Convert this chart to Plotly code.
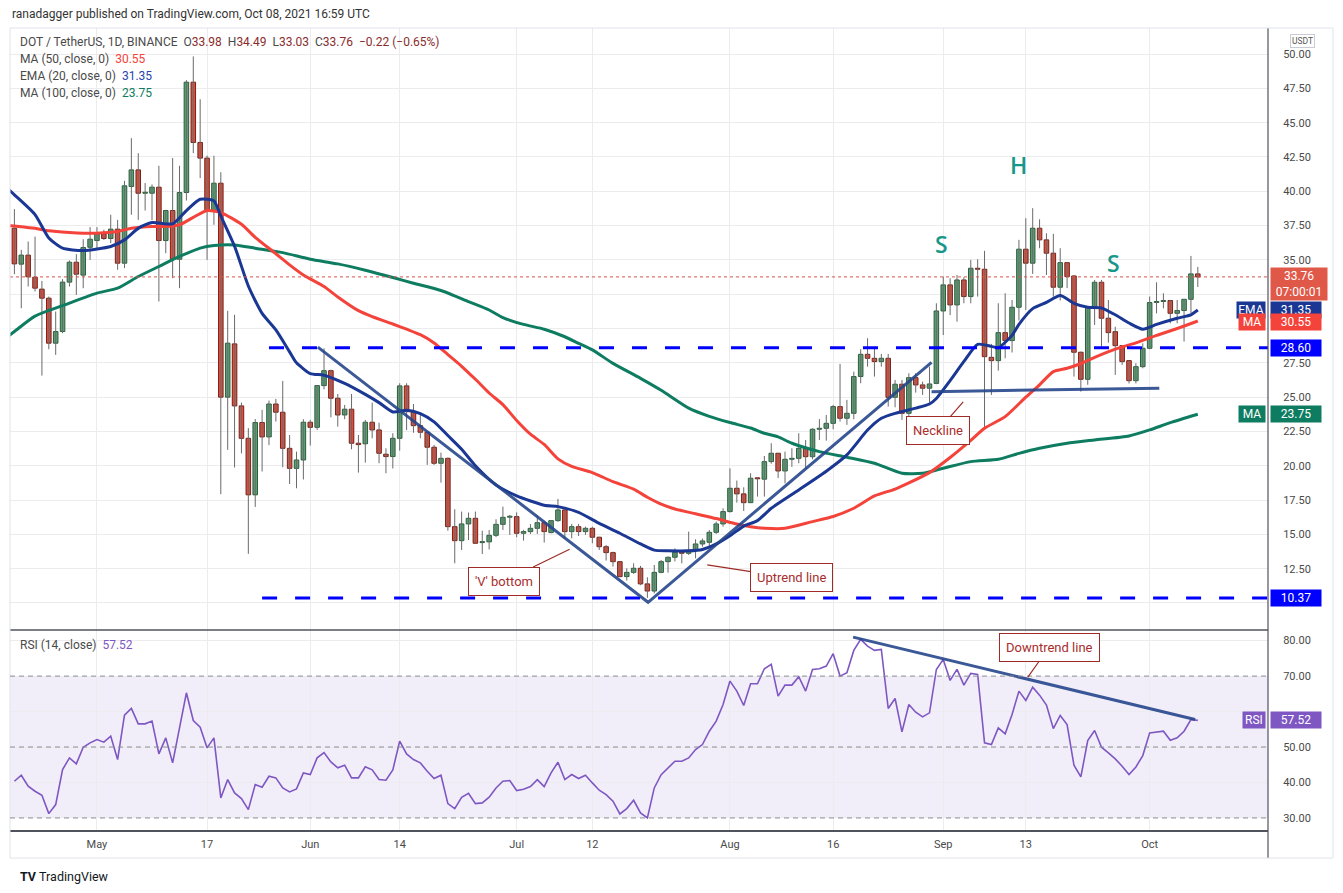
import pandas as pd
import plotly.graph_objects as go

START = pd.Timestamp("2021-04-19")

# daily candles, DOT/USDT 1D, Apr 19 .. Oct 8 2021
opens = [
    37.31, 34.69, 35.35, 33.74, 32.87, 32.21, 28.93, 29.78, 33.38, 34.83,
    33.89, 35.92, 36.41, 36.90, 36.56, 37.24, 34.76, 40.35, 41.56, 39.86,
    39.86, 40.30, 36.41, 38.60, 35.05, 39.91, 47.95, 43.56, 42.42, 38.60,
    40.59, 25.00, 28.88, 24.36, 22.00, 17.88, 23.15, 22.10, 24.50, 23.90,
    21.27, 19.81, 20.42, 23.17, 22.80, 25.84, 26.93, 24.92, 23.70, 24.12,
    21.64, 21.60, 23.17, 22.61, 20.84, 20.67, 22.00, 25.82, 23.94, 22.92,
    22.44, 21.35, 20.18, 20.54, 15.56, 14.54, 15.76, 16.17, 14.40, 14.45,
    14.93, 15.73, 16.25, 16.29, 15.08, 15.20, 15.44, 15.85, 15.13, 16.00,
    16.78, 15.20, 15.56, 15.20, 15.44, 14.79, 14.10, 13.67, 13.01, 11.92,
    12.23, 12.53, 11.39, 10.87, 12.23, 13.01, 13.33, 13.70, 13.62, 13.82,
    14.30, 14.42, 15.15, 15.76, 16.66, 18.36, 17.95, 17.31, 19.09, 19.02,
    20.30, 20.91, 19.62, 20.47, 20.54, 21.27, 20.66, 22.66, 22.73, 23.09,
    24.31, 23.46, 23.82, 26.50, 28.12, 27.83, 27.59, 27.83, 24.99, 25.94,
    23.82, 26.42, 25.89, 25.65, 26.00, 31.28, 33.18, 31.72, 33.54, 32.33,
    34.39, 34.32, 27.90, 27.66, 29.70, 29.12, 31.55, 35.78, 34.76, 37.31,
    36.46, 35.49, 33.01, 34.80, 33.83, 28.27, 26.30, 31.55, 33.37, 30.75,
    29.77, 28.75, 27.66, 26.20, 27.22, 28.56, 31.90, 31.97, 32.04, 31.11,
    31.31, 32.13, 33.98,
]
highs = [
    38.70, 35.73, 36.34, 36.70, 33.47, 32.33, 31.24, 33.60, 34.96, 35.42,
    36.51, 37.39, 37.39, 37.20, 38.29, 37.92, 40.76, 43.87, 42.78, 40.60,
    40.50, 41.86, 38.65, 42.42, 41.86, 48.10, 49.83, 46.71, 42.60, 42.59,
    41.39, 31.29, 31.00, 24.60, 22.74, 23.40, 24.07, 24.75, 24.87, 26.18,
    22.24, 21.03, 23.39, 23.34, 25.89, 28.56, 27.00, 25.23, 24.43, 25.23,
    22.24, 23.34, 24.60, 23.14, 21.27, 22.37, 26.01, 26.01, 24.50, 23.82,
    22.49, 21.52, 20.96, 20.60, 16.83, 16.66, 16.59, 16.66, 15.27, 15.32,
    16.10, 17.02, 16.41, 16.60, 15.33, 15.75, 16.41, 16.00, 16.05, 17.58,
    16.78, 15.76, 15.76, 15.56, 15.56, 14.83, 14.23, 13.74, 13.01, 12.53,
    12.89, 12.70, 11.87, 12.77, 13.13, 13.38, 13.98, 13.74, 15.20, 14.64,
    14.69, 15.32, 15.93, 16.90, 19.81, 18.92, 18.43, 19.45, 19.09, 20.71,
    21.64, 20.91, 21.03, 21.27, 22.37, 21.88, 22.73, 23.40, 23.70, 24.43,
    27.42, 24.80, 26.86, 28.49, 29.29, 28.56, 28.15, 28.15, 26.25, 26.25,
    26.74, 26.74, 26.13, 27.22, 31.84, 33.79, 33.66, 33.90, 33.73, 35.00,
    35.05, 35.66, 28.88, 31.84, 32.57, 32.08, 36.46, 38.04, 38.77, 37.96,
    36.94, 36.90, 35.85, 34.80, 33.90, 28.32, 31.60, 33.54, 33.54, 32.08,
    30.13, 28.80, 27.66, 27.47, 28.92, 32.33, 33.37, 32.57, 32.08, 32.08,
    32.13, 35.29, 34.49,
]
lows = [
    33.96, 31.48, 33.06, 32.70, 26.57, 28.49, 28.08, 29.66, 33.06, 32.45,
    32.94, 35.00, 35.73, 36.45, 36.22, 34.28, 34.40, 38.29, 37.92, 38.60,
    37.90, 31.97, 35.49, 33.67, 32.94, 39.33, 42.78, 40.96, 35.00, 37.56,
    17.93, 21.16, 19.87, 20.90, 13.58, 17.00, 19.58, 21.50, 23.22, 19.89,
    18.67, 18.36, 19.00, 21.47, 22.60, 25.57, 23.53, 22.85, 23.39, 21.20,
    19.50, 20.23, 22.00, 20.18, 19.45, 19.80, 21.10, 22.60, 22.40, 22.00,
    20.06, 20.06, 18.77, 15.27, 12.89, 13.86, 14.59, 14.30, 13.57, 13.90,
    14.80, 15.32, 14.96, 14.79, 14.54, 15.03, 15.03, 14.40, 15.07, 15.92,
    14.71, 14.71, 14.88, 14.96, 14.35, 13.86, 13.09, 12.65, 11.87, 11.63,
    12.12, 11.30, 10.37, 10.70, 12.16, 12.21, 13.03, 12.89, 13.50, 13.25,
    14.10, 14.10, 15.03, 15.56, 16.59, 17.31, 16.70, 17.31, 17.75, 17.75,
    20.15, 19.10, 18.72, 19.92, 20.18, 19.81, 20.47, 21.88, 21.83, 22.66,
    23.22, 22.98, 23.39, 26.01, 27.22, 26.50, 27.22, 24.31, 24.26, 23.34,
    23.39, 25.33, 25.16, 24.60, 25.94, 29.53, 30.98, 30.50, 31.84, 31.84,
    32.33, 22.60, 25.16, 26.93, 27.83, 28.25, 30.58, 31.35, 33.98, 35.85,
    33.90, 32.33, 32.04, 32.95, 26.50, 25.40, 25.90, 30.26, 28.68, 28.97,
    26.62, 27.35, 26.00, 26.00, 27.10, 28.49, 31.10, 31.47, 30.38, 30.38,
    29.05, 31.11, 33.03,
]
closes = [
    34.71, 35.35, 33.77, 32.94, 32.21, 28.93, 29.78, 33.38, 34.83, 33.96,
    35.90, 36.51, 36.90, 36.56, 37.24, 34.76, 40.40, 41.56, 39.86, 39.90,
    40.30, 36.41, 38.60, 35.05, 39.91, 47.95, 43.56, 42.42, 38.60, 40.59,
    25.00, 28.93, 24.36, 22.00, 17.88, 23.15, 22.10, 24.50, 23.90, 21.27,
    19.81, 20.42, 23.17, 22.80, 25.84, 26.93, 24.92, 23.70, 24.12, 21.64,
    21.54, 23.17, 22.61, 20.91, 20.67, 22.00, 25.82, 23.94, 22.92, 22.44,
    21.35, 20.18, 20.54, 15.56, 14.54, 15.76, 16.17, 14.35, 14.45, 14.93,
    15.73, 16.24, 16.30, 15.08, 15.20, 15.44, 15.85, 15.20, 16.00, 16.78,
    15.20, 15.56, 15.20, 15.44, 14.79, 14.10, 13.67, 13.01, 11.92, 12.23,
    12.53, 11.39, 10.87, 12.23, 13.01, 13.33, 13.70, 13.62, 13.82, 14.30,
    14.52, 15.15, 15.76, 16.66, 18.36, 17.95, 17.31, 19.09, 19.05, 20.30,
    20.91, 19.62, 20.47, 20.54, 21.27, 20.66, 22.66, 22.73, 23.09, 24.31,
    23.46, 23.82, 26.50, 28.12, 27.83, 27.59, 27.83, 24.99, 25.94, 23.82,
    26.42, 25.89, 25.65, 25.96, 31.28, 33.18, 31.72, 33.54, 32.33, 34.39,
    34.32, 27.95, 27.66, 29.70, 29.12, 31.55, 35.78, 34.76, 37.31, 36.46,
    35.49, 33.01, 34.80, 33.78, 28.27, 26.30, 31.55, 33.37, 30.75, 29.70,
    28.75, 27.59, 26.20, 27.22, 28.56, 31.89, 31.97, 32.04, 31.11, 31.31,
    32.13, 33.98, 33.76,
]

rsi = [
    40.35, 42.05, 38.94, 37.53, 36.40, 31.22, 33.76, 43.65, 46.94, 45.25,
    49.95, 51.18, 52.12, 51.36, 53.06, 46.47, 58.99, 60.87, 56.54, 56.54,
    57.30, 48.07, 52.59, 45.53, 55.40, 65.29, 57.48, 55.60, 49.76, 52.59,
    35.65, 40.82, 37.06, 35.46, 32.35, 39.41, 38.66, 41.76, 41.29, 38.47,
    37.34, 38.19, 42.71, 42.24, 46.94, 48.45, 45.81, 44.12, 44.87, 41.29,
    41.29, 44.40, 43.55, 40.82, 40.64, 43.55, 51.65, 48.07, 46.47, 45.53,
    43.18, 41.11, 42.05, 34.05, 32.64, 35.84, 36.96, 34.05, 34.24, 35.84,
    38.47, 40.35, 40.54, 37.72, 38.09, 38.85, 40.82, 38.85, 42.71, 45.72,
    40.82, 42.24, 41.11, 42.05, 39.88, 37.81, 36.59, 34.71, 31.13, 32.64,
    34.99, 31.41, 30.00, 38.47, 42.20, 44.10, 45.99, 45.99, 46.93, 49.28,
    50.70, 54.46, 57.29, 62.00, 68.59, 65.76, 61.71, 67.83, 67.83, 72.07,
    73.30, 64.35, 67.46, 67.46, 69.81, 65.76, 71.88, 72.07, 72.82, 76.31,
    70.00, 70.94, 77.25, 80.36, 78.47, 77.25, 77.53, 60.87, 63.69, 54.27,
    62.00, 59.83, 58.51, 59.64, 71.88, 74.71, 68.78, 71.88, 67.46, 70.75,
    70.47, 51.17, 50.70, 55.40, 53.71, 59.17, 65.76, 63.13, 66.89, 64.63,
    61.81, 55.22, 58.89, 56.35, 44.86, 41.56, 51.83, 54.65, 49.94, 48.34,
    46.65, 44.58, 42.22, 44.39, 47.59, 53.99, 54.18, 54.46, 51.92, 52.58,
    54.46, 57.76, 57.52,
]

# indicator lines (day offset from Apr 19, value)
ema20_day = [-1, 0, 3, 5, 7, 10, 14, 16, 18, 20, 23, 25, 27, 29, 30, 32, 34, 36, 38, 40,
             41, 43, 45, 48, 51, 53, 55, 57, 59, 61, 63, 65, 67, 70, 73, 77, 79, 82, 85, 88,
             91, 93, 95, 98, 100, 102, 104, 106, 108, 110, 114, 118, 121, 124, 126, 128, 131, 133, 134, 136,
             138, 140, 142, 143, 145, 146, 148, 150, 152, 154, 156, 158, 160, 162, 164, 166, 169, 171, 172]
ema20 = [40.2, 39.74, 38.3, 36.6, 35.86, 35.68, 35.98, 36.46, 37.3, 37.73, 37.63, 38.6, 39.42, 39.3, 38.2, 36.0, 33.1, 31.1, 29.9, 28.3,
         27.5, 26.72, 26.6, 26.0, 25.2, 24.6, 23.92, 24.05, 23.8, 23.2, 22.2, 21.2, 20.0, 18.6, 17.8, 17.12, 17.02, 16.6, 15.8, 15.08,
         14.3, 13.85, 13.8, 13.8, 13.9, 14.3, 14.9, 15.6, 16.0, 16.9, 18.24, 19.6, 20.79, 22.6, 23.46, 23.82, 24.2, 24.5, 24.9, 26.2,
         27.6, 28.85, 28.7, 28.6, 29.5, 30.3, 31.45, 31.9, 32.4, 31.84, 31.55, 31.5, 31.0, 30.4, 29.95, 30.3, 30.75, 31.0, 31.35]

ma50_day = [-1, 0, 3, 5, 8, 10, 12, 15, 17, 20, 22, 24, 26, 28, 30, 33, 35, 38, 40, 42,
            45, 47, 50, 52, 55, 57, 59, 61, 63, 65, 67, 69, 71, 73, 75, 77, 79, 81, 84, 87,
            90, 92, 94, 96, 99, 102, 105, 107, 109, 112, 116, 119, 122, 125, 128, 130, 133, 136, 139, 141,
            144, 147, 149, 151, 153, 155, 157, 160, 163, 166, 169, 172]
ma50 = [37.5, 37.48, 37.3, 37.12, 37.0, 36.95, 36.95, 37.07, 37.3, 37.43, 37.43, 37.56, 38.1, 38.6, 38.45, 37.6, 36.65, 35.45, 34.64, 33.9,
        33.06, 32.3, 31.3, 30.87, 30.33, 29.95, 29.55, 28.95, 28.1, 27.25, 26.3, 25.3, 24.45, 23.3, 22.3, 21.55, 20.5, 19.95, 19.5, 18.84,
        18.3, 17.7, 17.2, 16.85, 16.5, 16.15, 15.75, 15.56, 15.45, 15.44, 15.93, 16.3, 16.9, 17.8, 18.3, 18.75, 19.5, 20.6, 21.85, 22.73,
        23.58, 25.0, 25.9, 26.86, 27.1, 27.45, 27.9, 28.5, 28.95, 29.5, 30.0, 30.55]

ma100_day = [-1, 0, 3, 8, 12, 15, 18, 21, 24, 27, 29, 32, 35, 39, 43, 47, 51, 55, 58, 62,
             66, 69, 71, 74, 77, 80, 82, 84, 87, 91, 94, 98, 101, 104, 107, 109, 111, 113, 117, 121,
             125, 129, 132, 135, 139, 143, 146, 149, 153, 157, 162, 165, 168, 172]
ma100 = [29.4, 29.78, 30.9, 31.85, 32.58, 32.94, 33.79, 34.52, 35.25, 35.86, 36.05, 36.09, 35.85, 35.53, 35.05, 34.71, 34.25, 33.72, 33.3, 32.77,
         31.96, 31.35, 30.8, 30.3, 29.95, 29.4, 28.92, 28.44, 27.46, 26.37, 25.5, 24.2, 23.6, 23.15, 22.75, 22.37, 22.1, 21.64, 21.03, 20.62,
         20.18, 19.45, 19.45, 19.82, 20.3, 20.47, 20.9, 21.27, 21.64, 21.88, 22.17, 22.61, 23.14, 23.75]

# hand-drawn chart objects
v_day = [44.1, 92.1, 133.3]
v_price = [28.64, 10.05, 27.54]
neck_day = [133.3, 166.4]
neck_price = [25.40, 25.65]
levels = [28.60, 10.37]
level_start = [37, 36]
rsi_trend_day = [121.9, 171.6]
rsi_trend = [81.0, 57.76]

tick_days = ["2021-05-01", "2021-05-17", "2021-06-01", "2021-06-14", "2021-07-01", "2021-07-12",
             "2021-08-01", "2021-08-16", "2021-09-01", "2021-09-13", "2021-10-01"]
tick_text = ["May", "17", "Jun", "14", "Jul", "12", "Aug", "16", "Sep", "13", "Oct"]
price_ticks = [12.5, 15, 17.5, 20, 22.5, 25, 27.5, 35, 37.5, 40, 42.5, 45, 47.5, 50]
price_hidden = [10, 30, 32.5]          # covered by the price tags
rsi_ticks = [30, 40, 50, 70, 80]
rsi_hidden = [60]

callout_text = ["'V' bottom", "Uptrend line", "Neckline", "Downtrend line"]
callout_tip_day = [80.7, 100.7, 137.9, 147.3]
callout_tip = [13.91, 12.77, 24.65, 69.7]
callout_box_day = [71.2, 113.0, 134.2, 150.4]
callout_box = [11.6, 11.82, 22.54, 78.2]
callout_pane = ["y", "y", "y", "y2"]

pattern_text = ["S", "H", "S"]
pattern_day = [134.8, 146.0, 159.7]
pattern_price = [36.17, 41.92, 34.78]

UP, UP_EDGE = "#5b9e74", "#2a5e3c"
DOWN, DOWN_EDGE = "#d9503f", "#74221a"
EMA_C, MA50_C, MA100_C = "#1a3794", "#f4433a", "#0e7c61"
TREND_C = "#26468c"
LEVEL_C = "#0000ff"
RSI_C = "#7e57c2"
GRID = "#ececef"
AXIS = "#50535e"
NOTE = "#a82d2d"
SPLIT = 200 / 802


def day(d):
    return START + pd.Timedelta(days=d)


dates = [day(i) for i in range(len(closes))]
rising = [c >= o for o, c in zip(opens, closes)]

wick_x, wick_y = [], []
for d, h, l in zip(dates, highs, lows):
    wick_x += [d, d, None]
    wick_y += [l, h, None]

fig = go.Figure()

fig.add_trace(go.Scatter(x=wick_x, y=wick_y, mode="lines",
                         line=dict(color="#6a6a6a", width=1), hoverinfo="skip"))
fig.add_trace(go.Bar(
    x=dates,
    base=[min(o, c) for o, c in zip(opens, closes)],
    y=[max(abs(c - o), 0.07) for o, c in zip(opens, closes)],
    width=0.66 * 86400000,
    marker=dict(color=[UP if r else DOWN for r in rising],
                line=dict(color=[UP_EDGE if r else DOWN_EDGE for r in rising], width=1)),
    hoverinfo="skip",
))

for xs, ys, col in [(ma100_day, ma100, MA100_C), (ma50_day, ma50, MA50_C), (ema20_day, ema20, EMA_C)]:
    fig.add_trace(go.Scatter(x=[day(d) for d in xs], y=ys, mode="lines",
                             line=dict(color=col, width=3, shape="spline", smoothing=0.6),
                             hoverinfo="skip"))

# dashed horizontal levels
for lvl, s in zip(levels, level_start):
    fig.add_trace(go.Scatter(x=[day(s), day(190)], y=[lvl, lvl], mode="lines",
                             line=dict(color=LEVEL_C, width=3, dash="15px,18px"), hoverinfo="skip"))

fig.add_trace(go.Scatter(x=[day(d) for d in v_day], y=v_price, mode="lines",
                         line=dict(color=TREND_C, width=3), opacity=0.9, hoverinfo="skip"))
fig.add_trace(go.Scatter(x=[day(d) for d in neck_day], y=neck_price, mode="lines",
                         line=dict(color=TREND_C, width=3), opacity=0.9, hoverinfo="skip"))

# RSI pane
fig.add_trace(go.Scatter(x=dates, y=rsi, mode="lines", yaxis="y2",
                         line=dict(color=RSI_C, width=1.6), hoverinfo="skip"))
fig.add_trace(go.Scatter(x=[day(d) for d in rsi_trend_day], y=rsi_trend, mode="lines", yaxis="y2",
                         line=dict(color=TREND_C, width=3), opacity=0.9, hoverinfo="skip"))

shapes = [
    dict(type="rect", xref="paper", yref="y2", x0=0, x1=1, y0=30, y1=70,
         fillcolor="rgba(126,87,194,0.10)", line_width=0, layer="below"),
    dict(type="line", xref="paper", yref="y", x0=0, x1=1, y0=closes[-1], y1=closes[-1],
         line=dict(color="#d9534f", width=1, dash="dot")),
    dict(type="line", xref="paper", yref="paper", x0=0, x1=1, y0=SPLIT, y1=SPLIT,
         line=dict(color=AXIS, width=1.5)),
    dict(type="line", xref="paper", yref="paper", x0=1, x1=1, y0=-0.035, y1=1,
         line=dict(color=AXIS, width=1.2)),
    dict(type="rect", xref="paper", yref="paper", x0=0, x1=1.0517, y0=-0.035, y1=1,
         line=dict(color="#e0e3eb", width=1)),
]
for lvl in [70, 50, 30]:
    shapes.append(dict(type="line", xref="paper", yref="y2", x0=0, x1=1, y0=lvl, y1=lvl,
                       line=dict(color="#8a8d96", width=1, dash="5px,4px")))

annotations = []


def text_note(txt, x, y, size=12, color="#4a4a4a"):
    annotations.append(dict(text=txt, xref="paper", yref="paper", x=x, y=y, xanchor="left",
                            yanchor="middle", showarrow=False, font=dict(size=size, color=color)))


text_note("ranadagger published on TradingView.com, Oct 08, 2021 16:59 UTC", 0.0, 1.0175, 12, "#333333")
val = "<span style='color:#8b2c2c'>{}</span>"
text_note("DOT / TetherUS, 1D, BINANCE\u00a0\u00a0O" + val.format("33.98") + "\u00a0\u00a0H" + val.format("34.49")
          + "\u00a0\u00a0L" + val.format("33.03") + "\u00a0\u00a0C" + val.format("33.76") + "\u00a0\u00a0"
          + val.format("\u22120.22 (\u22120.65%)"), 0.0064, 0.9825)
text_note("MA (50, close, 0)\u00a0\u00a0<span style='color:%s'>30.55</span>" % MA50_C, 0.0064, 0.9613)
text_note("EMA (20, close, 0)\u00a0\u00a0<span style='color:#2a44b0'>31.35</span>", 0.0064, 0.9401)
text_note("MA (100, close, 0)\u00a0\u00a0<span style='color:%s'>23.75</span>" % MA100_C, 0.0064, 0.9190)
text_note("RSI (14, close)\u00a0\u00a0<span style='color:%s'>57.52</span>" % RSI_C, 0.0064, 0.2307)
text_note("<b>TV</b>\u00a0TradingView", 0.0064, -0.0574, 12.5, "#131722")

annotations.append(dict(text="USDT", xref="paper", yref="paper", x=1.0272, y=0.9925,
                        xanchor="center", yanchor="top", showarrow=False,
                        font=dict(size=8.5, color="#555"), bordercolor="#c9ccd4", borderwidth=1,
                        borderpad=1, bgcolor="white"))

for t, td, tv, bd, bv, pane in zip(callout_text, callout_tip_day, callout_tip,
                                   callout_box_day, callout_box, callout_pane):
    annotations.append(dict(text=t, x=day(td), y=tv, xref="x", yref=pane,
                            ax=day(bd), ay=bv, axref="x", ayref=pane,
                            showarrow=True, arrowhead=0, arrowwidth=1.2, arrowcolor="#9e2b25",
                            font=dict(size=13, color=NOTE), bgcolor="white",
                            bordercolor="#9e2b25", borderwidth=1, borderpad=6))

for t, d, p in zip(pattern_text, pattern_day, pattern_price):
    annotations.append(dict(text=t, x=day(d), y=p, xref="x", yref="y", showarrow=False,
                            font=dict(size=23, color="#17968a", family="Open Sans", weight=600)))


def tag(txt, y, yref, color, left=False, width=54):
    annotations.append(dict(text=txt, xref="paper", yref=yref, x=0.9985 if left else 1.0016, y=y,
                            xanchor="right" if left else "left", yanchor="middle", showarrow=False,
                            width=width, align="center", bgcolor=color, borderpad=1,
                            font=dict(size=12, color="white")))


tag("33.76<br>07:00:01", closes[-1] - 0.5, "y", "#df5848")
tag("EMA", ema20[-1], "y", EMA_C, left=True, width=26)
tag("31.35", ema20[-1], "y", EMA_C, width=48)
tag("MA", ma50[-1] - 0.1, "y", MA50_C, left=True, width=24)
tag("30.55", ma50[-1] - 0.1, "y", MA50_C, width=48)
tag("28.60", levels[0], "y", LEVEL_C, width=48)
tag("10.37", levels[1], "y", LEVEL_C, width=48)
tag("MA", ma100[-1], "y", MA100_C, left=True, width=24)
tag("23.75", ma100[-1], "y", MA100_C, width=48)
tag("RSI", rsi[-1], "y2", RSI_C, left=True, width=20)
tag("57.52", rsi[-1], "y2", RSI_C, width=48)

# the page body adds an 8px margin, so the figure is shrunk by that much
fig.update_layout(
    width=1335,
    height=885,
    margin=dict(l=2, r=75, t=20, b=63),
    paper_bgcolor="white",
    plot_bgcolor="white",
    showlegend=False,
    font=dict(family="Roboto, Arial, sans-serif", size=11, color="#4a4a4a"),
    xaxis=dict(type="date", anchor="y2", range=[day(-0.64), day(182.2)],
               tickvals=tick_days, ticktext=tick_text, showgrid=True, gridcolor=GRID,
               showline=True, linecolor=AXIS, linewidth=1.5, zeroline=False,
               ticks="outside", ticklen=3, tickcolor="rgba(0,0,0,0)",
               tickfont=dict(size=11, color="#4a4a4a")),
    yaxis=dict(domain=[SPLIT, 1], range=[8.03, 51.9], side="right",
               tickvals=price_ticks, tickformat=".2f", showgrid=True, gridcolor=GRID,
               minor=dict(tickvals=price_hidden, showgrid=True, gridcolor=GRID, ticks=""),
               zeroline=False, showline=False, ticks="outside", ticklen=12,
               tickcolor="rgba(0,0,0,0)", tickfont=dict(size=11, color="#4a4a4a")),
    yaxis2=dict(domain=[0, SPLIT], range=[26.6, 83.0], side="right", anchor="x",
                tickvals=rsi_ticks, tickformat=".2f", showgrid=True, gridcolor=GRID,
                minor=dict(tickvals=rsi_hidden, showgrid=True, gridcolor=GRID, ticks=""),
                zeroline=False, showline=False, ticks="outside", ticklen=12,
                tickcolor="rgba(0,0,0,0)", tickfont=dict(size=11, color="#4a4a4a")),
    shapes=shapes,
    annotations=annotations,
)

fig.write_html("out.html", config={"displayModeBar": False})
